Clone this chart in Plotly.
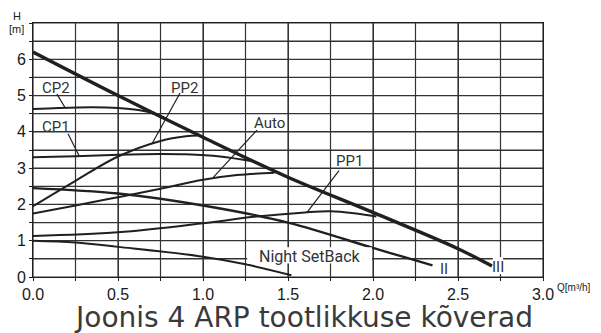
import plotly.graph_objects as go

# Pump performance curves: head H [m] versus flow Q [m³/h]
q_iii = [0.0, 0.5, 1.0, 1.5, 2.0, 2.5, 2.7]
h_iii = [6.2, 5.0, 3.85, 2.75, 1.78, 0.78, 0.3]

q_ii = [0.0, 0.5, 1.0, 1.5, 2.0, 2.16, 2.35]
h_ii = [2.45, 2.3, 1.97, 1.5, 0.8, 0.58, 0.32]

q_night = [0.0, 0.25, 0.5, 1.0, 1.25, 1.52]
h_night = [1.0, 0.95, 0.83, 0.56, 0.35, 0.05]

q_pp1 = [0.0, 0.5, 1.0, 1.3, 1.6, 1.75, 1.9, 2.02]
h_pp1 = [1.13, 1.23, 1.48, 1.66, 1.78, 1.81, 1.75, 1.67]

q_auto = [0.0, 0.25, 0.5, 0.75, 1.0, 1.2, 1.42]
h_auto = [1.75, 1.97, 2.2, 2.43, 2.68, 2.81, 2.87]

q_cp1 = [0.0, 0.25, 0.5, 0.75, 0.9, 1.1, 1.3]
h_cp1 = [3.3, 3.33, 3.37, 3.39, 3.38, 3.32, 3.18]

q_cp2 = [0.0, 0.15, 0.35, 0.5, 0.62, 0.72, 0.78]
h_cp2 = [4.63, 4.66, 4.68, 4.66, 4.6, 4.49, 4.37]

q_pp2 = [0.0, 0.25, 0.5, 0.75, 0.9, 0.97]
h_pp2 = [1.95, 2.65, 3.32, 3.75, 3.88, 3.9]

# grid positions and their labels (blank = grid line only)
x_ticks = [0.0, 0.25, 0.5, 0.75, 1.0, 1.25, 1.5, 1.75, 2.0, 2.25, 2.5, 2.75, 3.0]
x_tick_text = ["0.0", "", "0.5", "", "1.0", "", "1.5", "", "2.0", "", "2.5", "", "3.0"]
y_ticks = [0, 0.5, 1, 1.5, 2, 2.5, 3, 3.5, 4, 4.5, 5, 5.5, 6, 6.5, 7]
y_tick_text = ["0", "", "1", "", "2", "", "3", "", "4", "", "5", "", "6", "", ""]

INK = "#231f20"
GRID = "#333333"

fig = go.Figure()

# grid drawn as one line trace underneath the curves
gx, gy = [], []
for xv in x_ticks:
    gx += [xv, xv, None]
    gy += [y_ticks[0], y_ticks[-1], None]
for yv in y_ticks:
    gx += [x_ticks[0], x_ticks[-1], None]
    gy += [yv, yv, None]
fig.add_trace(go.Scatter(x=gx, y=gy, mode="lines", line=dict(color=GRID, width=1.2),
                         showlegend=False, hoverinfo="skip"))

curves = [
    (q_iii, h_iii, 3.4),
    (q_ii, h_ii, 2.4),
    (q_night, h_night, 2.0),
    (q_pp1, h_pp1, 2.0),
    (q_auto, h_auto, 2.0),
    (q_cp1, h_cp1, 2.0),
    (q_cp2, h_cp2, 2.0),
    (q_pp2, h_pp2, 2.0),
]
for qs, hs, w in curves:
    fig.add_trace(go.Scatter(
        x=qs, y=hs, mode="lines",
        line=dict(color=INK, width=w, shape="spline", smoothing=1.0),
        showlegend=False, hoverinfo="skip",
    ))

# white patches behind the Night SetBack and III labels
fig.add_shape(type="rect", x0=1.26, x1=1.994, y0=0.37, y1=0.82,
              line=dict(width=0), fillcolor="white", layer="above")
fig.add_shape(type="rect", x0=2.705, x1=2.765, y0=0.08, y1=0.55,
              line=dict(width=0), fillcolor="white", layer="above")

# curve name labels
labels = [
    ("CP2", 0.135, 5.22, 15),
    ("CP1", 0.135, 4.14, 15),
    ("PP2", 0.89, 5.22, 15),
    ("Auto", 1.394, 4.25, 15),
    ("PP1", 1.859, 3.2, 15),
    ("II", 2.42, 0.22, 15),
    ("III", 2.735, 0.27, 15),
    ("Night SetBack", 1.63, 0.56, 16),
]
for text, x, y, size in labels:
    fig.add_annotation(x=x, y=y, text=text, showarrow=False,
                       font=dict(family="Roboto, DejaVu Sans, sans-serif", size=size, color="#333333"))

# leader lines from labels to their curves
leaders = [
    (0.141, 5.04, 0.188, 4.67),
    (0.206, 3.95, 0.271, 3.34),
    (0.865, 5.07, 0.70, 3.67),
    (1.318, 4.05, 1.059, 2.74),
    (1.80, 2.93, 1.612, 1.78),
]
for x0, y0, x1, y1 in leaders:
    fig.add_shape(type="line", x0=x0, y0=y0, x1=x1, y1=y1,
                  line=dict(color=INK, width=1.2))

tick_font = dict(family="Liberation Sans, Arial, sans-serif", size=16, color="#1a1a1a")

fig.update_xaxes(
    range=[0, 3], tickmode="array", tickvals=x_ticks, ticktext=x_tick_text,
    showgrid=True, gridcolor=GRID, gridwidth=1,
    showline=True, linecolor=INK, linewidth=1, mirror=True,
    ticks="outside", ticklen=3, tickcolor=INK,
    zeroline=False, tickfont=tick_font,
)
fig.update_yaxes(
    range=[0, 7], tickmode="array", tickvals=y_ticks, ticktext=y_tick_text,
    showgrid=True, gridcolor=GRID, gridwidth=1,
    showline=True, linecolor=INK, linewidth=1, mirror=True,
    ticks="outside", ticklen=3, tickcolor=INK,
    zeroline=False, tickfont=tick_font,
)

unit_font = dict(family="Liberation Sans, Arial, sans-serif", size=11, color="#1a1a1a")

# axis unit labels
fig.add_annotation(xref="paper", yref="paper", x=1.0, y=0.0, xshift=12, yshift=-10,
                   xanchor="left", yanchor="middle", showarrow=False,
                   text="Q[m³/h]", font=dict(family="Liberation Sans, Arial, sans-serif",
                                             size=10, color="#1a1a1a"))
fig.add_annotation(xref="paper", yref="paper", x=0.0, y=1.0, xshift=-16, yshift=7,
                   xanchor="center", yanchor="middle", showarrow=False,
                   text="H", font=unit_font)
fig.add_annotation(xref="paper", yref="paper", x=0.0, y=1.0, xshift=-17, yshift=-6,
                   xanchor="center", yanchor="middle", showarrow=False,
                   text="[m]", font=unit_font)

# figure caption
fig.add_annotation(xref="paper", yref="paper", x=0.53, y=0.0, yshift=-40,
                   xanchor="center", yanchor="middle", showarrow=False,
                   text="Joonis 4 ARP tootlikkuse kõverad",
                   font=dict(family="DejaVu Sans, sans-serif", size=28, color="#3a3a3a"))

fig.update_layout(
    width=601, height=333,
    margin=dict(l=33, r=58, t=23, b=56),
    paper_bgcolor="white", plot_bgcolor="white",
    showlegend=False,
)

fig.write_html("out.html")
